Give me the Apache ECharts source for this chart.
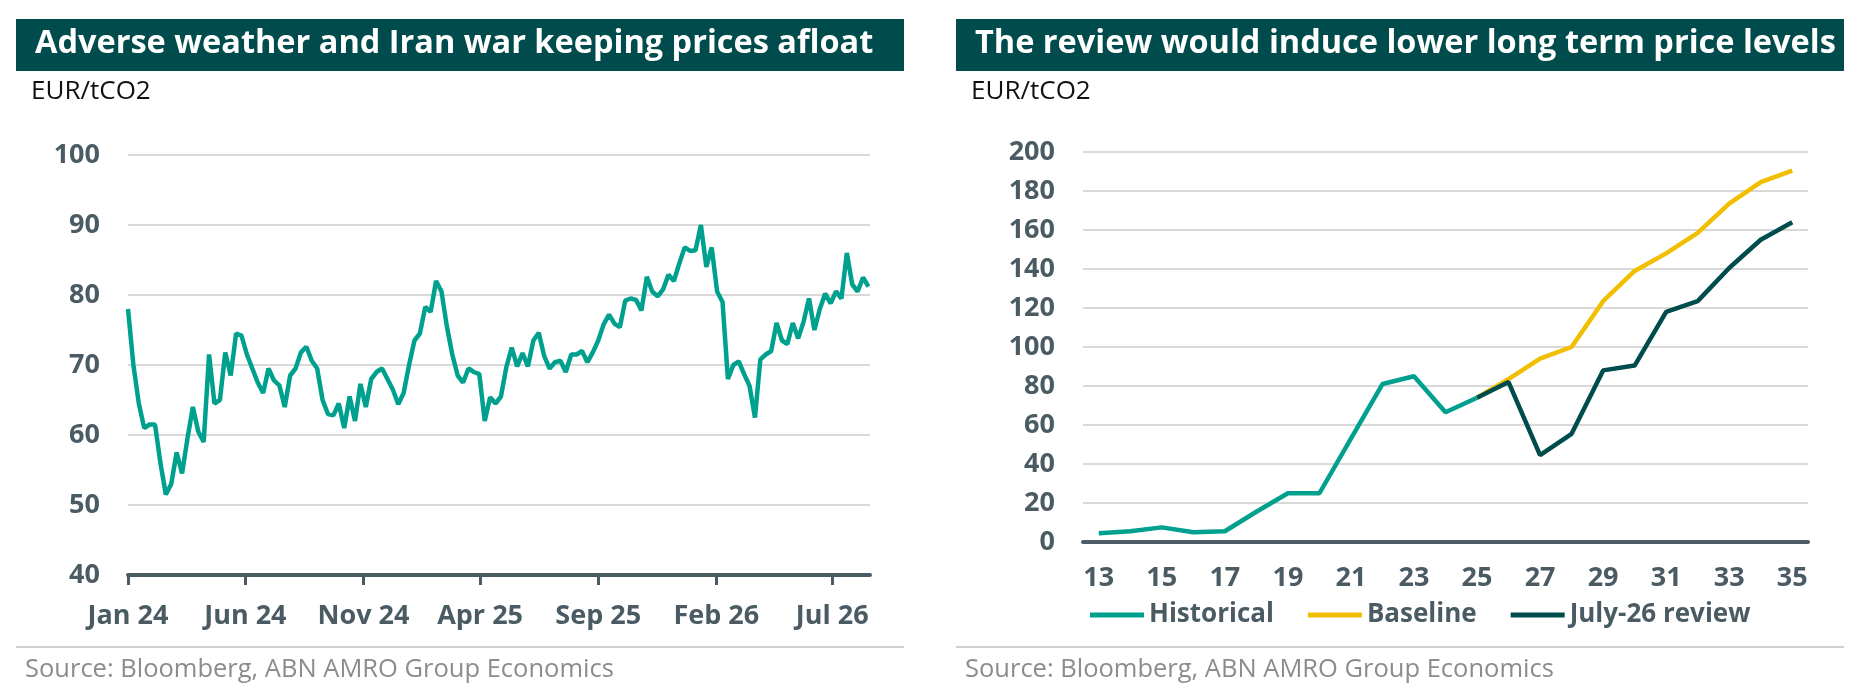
<!DOCTYPE html>
<html>
<head>
<meta charset="utf-8">
<title>EUA prices</title>
<script src="https://cdn.jsdelivr.net/npm/echarts@6/dist/echarts.min.js"></script>
<style>
  html, body { margin: 0; padding: 0; background: #fff; }
  #chart { width: 1869px; height: 689px; }
</style>
</head>
<body>
<div id="chart"></div>
<script>
// Left panel: weekly EUA price, EUR/tCO2 (first week starts 1 Jan 2024)
var weekStart = "2024-01-01";
var weeklyPrice = [
  78.0, 70, 64.5, 61, 61.5, 61.5, 56, 51.5, 53, 57.5,
  54.5, 59.5, 64, 60.5, 59, 71.5, 64.5, 65, 71.8, 68.5,
  74.5, 74.2, 71.5, 69.5, 67.5, 66, 69.5, 67.8, 67.1, 64,
  68.5, 69.5, 71.8, 72.6, 70.6, 69.5, 65, 63, 62.8, 64.5,
  61, 65.5, 62, 67.3, 64, 68, 69, 69.5, 68, 66.5,
  64.4, 66, 70, 73.5, 74.5, 78.3, 77.6, 82, 80.5, 75.5,
  71.5, 68.5, 67.5, 69.5, 69, 68.7, 62, 65.4, 64.5, 65.5,
  69.7, 72.5, 69.8, 71.7, 69.8, 73.5, 74.6, 71.3, 69.5, 70.4,
  70.6, 69, 71.5, 71.5, 72, 70.4, 71.8, 73.5, 75.8, 77.2,
  75.9, 75.4, 79.2, 79.5, 79.3, 77.8, 82.6, 80.5, 79.8, 80.8,
  82.9, 82, 84.5, 86.8, 86.3, 86.4, 90, 84, 86.8, 80.5,
  79, 68, 70, 70.5, 68.7, 67, 62.5, 70.8, 71.5, 72,
  76, 73.5, 73, 76, 73.8, 76.2, 79.5, 75, 78, 80.2,
  78.8, 80.5, 79.5, 86, 81.5, 80.5, 82.5, 81.2
];
var leftTickDates = ["2024-01-01", "2024-06-01", "2024-11-01", "2025-04-01", "2025-09-01", "2026-02-01", "2026-07-01"];
var leftTickLabels = ["Jan 24", "Jun 24", "Nov 24", "Apr 25", "Sep 25", "Feb 26", "Jul 26"];
var leftAxisEnd = "2026-08-19";

// Right panel: yearly price path, EUR/tCO2
var years = ["13", "14", "15", "16", "17", "18", "19", "20", "21", "22", "23", "24",
             "25", "26", "27", "28", "29", "30", "31", "32", "33", "34", "35"];
var historical = [4.5, 5.5, 7.5, 5, 5.5, 15.5, 25, 25, 53, 81, 85, 66.5, 74,
                  null, null, null, null, null, null, null, null, null, null];
var baseline = [null, null, null, null, null, null, null, null, null, null, null, null,
                74, 83.5, 94, 100, 123.5, 139, 148, 158.5, 173.5, 184.5, 190.5];
var review = [null, null, null, null, null, null, null, null, null, null, null, null,
              74, 82, 44.5, 55.5, 88, 90.5, 118, 123.5, 140.5, 155, 164];

var TEAL = "#00a08f";
var YELLOW = "#f2be00";
var DARK = "#004b4b";
var AXIS = "#4b5b64";
var FONT = "'Open Sans'";

// x of the left panel = days since weekStart
var DAY = 86400000;
function dayOf(d) {
  return Math.round((new Date(d + "T00:00:00Z") - new Date(weekStart + "T00:00:00Z")) / DAY);
}
var weeklyData = weeklyPrice.map(function (v, i) { return [i * 7, v]; });
var tickDays = leftTickDates.map(dayOf);

function header(x, w, text) {
  return [
    { type: "rect", shape: { x: x, y: 19, width: w, height: 52 }, style: { fill: DARK } },
    { type: "text", x: x + 19, y: 44, style: { text: text, fill: "#fff", font: "bold 32.5px " + FONT, textVerticalAlign: "middle" } },
    { type: "text", x: x + 15, y: 92, style: { text: "EUR/tCO2", fill: "#111", font: "26px " + FONT, textVerticalAlign: "middle" } },
    { type: "rect", shape: { x: x, y: 646, width: w, height: 2 }, style: { fill: "#cfcfcf" } },
    { type: "text", x: x + 9, y: 670, style: { text: "Source: Bloomberg, ABN AMRO Group Economics", fill: "#8c8c8c", font: "25.5px " + FONT, textVerticalAlign: "middle" } }
  ];
}

var chart = echarts.init(document.getElementById("chart"));

var yLabel = { color: AXIS, fontFamily: FONT, fontWeight: "bold", fontSize: 27, margin: 28 };
var gridLine = { show: true, lineStyle: { color: "#d9d9d9", width: 2 } };

var option = {
  animation: false,
  graphic: header(16, 888, "Adverse weather and Iran war keeping prices afloat")
    .concat(header(956, 888, "The review would induce lower long term price levels")),
  grid: [
    { left: 128, top: 155, width: 742, height: 420 },
    { left: 1083, top: 152, width: 725, height: 390 }
  ],
  legend: {
    left: 1085,
    top: 597,
    icon: "rect",
    itemWidth: 54,
    itemHeight: 5,
    itemGap: 34,
    textStyle: { color: AXIS, fontFamily: FONT, fontWeight: "bold", fontSize: 26 },
    data: ["Historical", "Baseline", "July-26 review"]
  },
  xAxis: [
    {
      type: "value",
      gridIndex: 0,
      min: 0,
      max: dayOf(leftAxisEnd),
      axisLine: { lineStyle: { color: AXIS, width: 4 } },
      axisTick: { customValues: tickDays, length: 10, lineStyle: { color: AXIS, width: 3 } },
      axisLabel: {
        customValues: tickDays,
        color: AXIS, fontFamily: FONT, fontWeight: "bold", fontSize: 27, margin: 28,
        formatter: function (v) {
          var k = tickDays.indexOf(v);
          return k >= 0 ? leftTickLabels[k] : "";
        }
      },
      splitLine: { show: false }
    },
    {
      type: "category",
      gridIndex: 1,
      data: years,
      boundaryGap: true,
      axisLine: { lineStyle: { color: AXIS, width: 4 } },
      axisTick: { interval: 0, length: 9, lineStyle: { color: AXIS, width: 3 } },
      axisLabel: { interval: 1, color: AXIS, fontFamily: FONT, fontWeight: "bold", fontSize: 27, margin: 23 }
    }
  ],
  yAxis: [
    {
      type: "value", gridIndex: 0, min: 40, max: 100, interval: 10,
      axisLine: { show: false }, axisTick: { show: false },
      axisLabel: yLabel, splitLine: gridLine
    },
    {
      type: "value", gridIndex: 1, min: 0, max: 200, interval: 20,
      axisLine: { show: false }, axisTick: { show: false },
      axisLabel: yLabel, splitLine: gridLine
    }
  ],
  series: [
    {
      name: "EUA", type: "line", xAxisIndex: 0, yAxisIndex: 0,
      data: weeklyData, showSymbol: false,
      lineStyle: { color: TEAL, width: 4.5 }, itemStyle: { color: TEAL }
    },
    {
      name: "Historical", type: "line", xAxisIndex: 1, yAxisIndex: 1,
      data: historical, showSymbol: false,
      lineStyle: { color: TEAL, width: 4.5 }, itemStyle: { color: TEAL }
    },
    {
      name: "Baseline", type: "line", xAxisIndex: 1, yAxisIndex: 1,
      data: baseline, showSymbol: false,
      lineStyle: { color: YELLOW, width: 4.5 }, itemStyle: { color: YELLOW }
    },
    {
      name: "July-26 review", type: "line", xAxisIndex: 1, yAxisIndex: 1,
      data: review, showSymbol: false,
      lineStyle: { color: DARK, width: 4.5 }, itemStyle: { color: DARK }
    }
  ]
};

chart.setOption(option);
</script>
</body>
</html>
